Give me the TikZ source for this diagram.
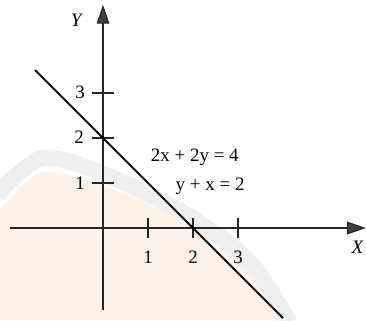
\documentclass[tikz,border=0pt]{standalone}
\usepackage{fontspec}
\setmainfont{Liberation Serif}
\usetikzlibrary{arrows.meta}
\definecolor{peach}{HTML}{FDF2EA}
\definecolor{wmgray}{HTML}{EFEFEF}
\tikzset{
  axis/.style={line width=0.8pt, black!85},
  tick/.style={line width=0.8pt, black!85},
  graphline/.style={line width=1.3pt, black},
  lbl/.style={font=\large, inner sep=0pt},
  tip/.style={-{Triangle[length=0.42cm,width=0.28cm,fill=black!75]}}
}
\begin{document}
\begin{tikzpicture}
\useasboundingbox (-2.289,-2.044) rectangle (5.844,5.067);
% faint watermark
\fill[peach] plot[smooth] coordinates {(-2.29,0.4) (-1.33,1.24) (0.27,0.84) (2.16,-0.04) (3.38,-1.04) (3.93,-2.05)} -- (-2.29,-2.05) -- cycle;
\draw[wmgray, line width=0.36cm] plot[smooth] coordinates {(-2.35,0.74) (-1.33,1.56) (0.16,1.14) (1.93,0.26) (3.27,-0.76) (4.15,-2.1)};
% axes
\coordinate (xs) at (-2.06,0);
\coordinate (xe) at (5.844,0);
\coordinate (ys) at (0,-1.82);
\coordinate (ye) at (0,4.96);
\draw[axis, tip] (xs) -- (xe);
\draw[axis, tip] (ys) -- (ye);
% ticks
\foreach \i in {1,2,3} {
  \draw[tick] (\i,-0.22) -- (\i,0.22);
  \draw[tick] (-0.24,\i) -- (0.24,\i);
}
% line
\coordinate (la) at (-1.51,3.51);
\coordinate (lb) at (4.0,-2.0);
\draw[graphline] (la) -- (lb);
% labels
\node[lbl] (t1) at (1,-0.64) {1};
\node[lbl] (t2) at (2,-0.64) {2};
\node[lbl] (t3) at (3,-0.64) {3};
\node[lbl] (u1) at (-0.51,1.0) {1};
\node[lbl] (u2) at (-0.53,2.02) {2};
\node[lbl] (u3) at (-0.51,3.02) {3};
\node[lbl] (ylab) at (-0.58,4.62) {\textit{Y}};
\node[lbl] (xlab) at (5.66,-0.42) {\textit{X}};
\node[lbl] (eq1) at (2.04,1.58) {2x + 2y = 4};
\node[lbl] (eq2) at (2.38,0.93) {y + x = 2};
\end{tikzpicture}
\end{document}
